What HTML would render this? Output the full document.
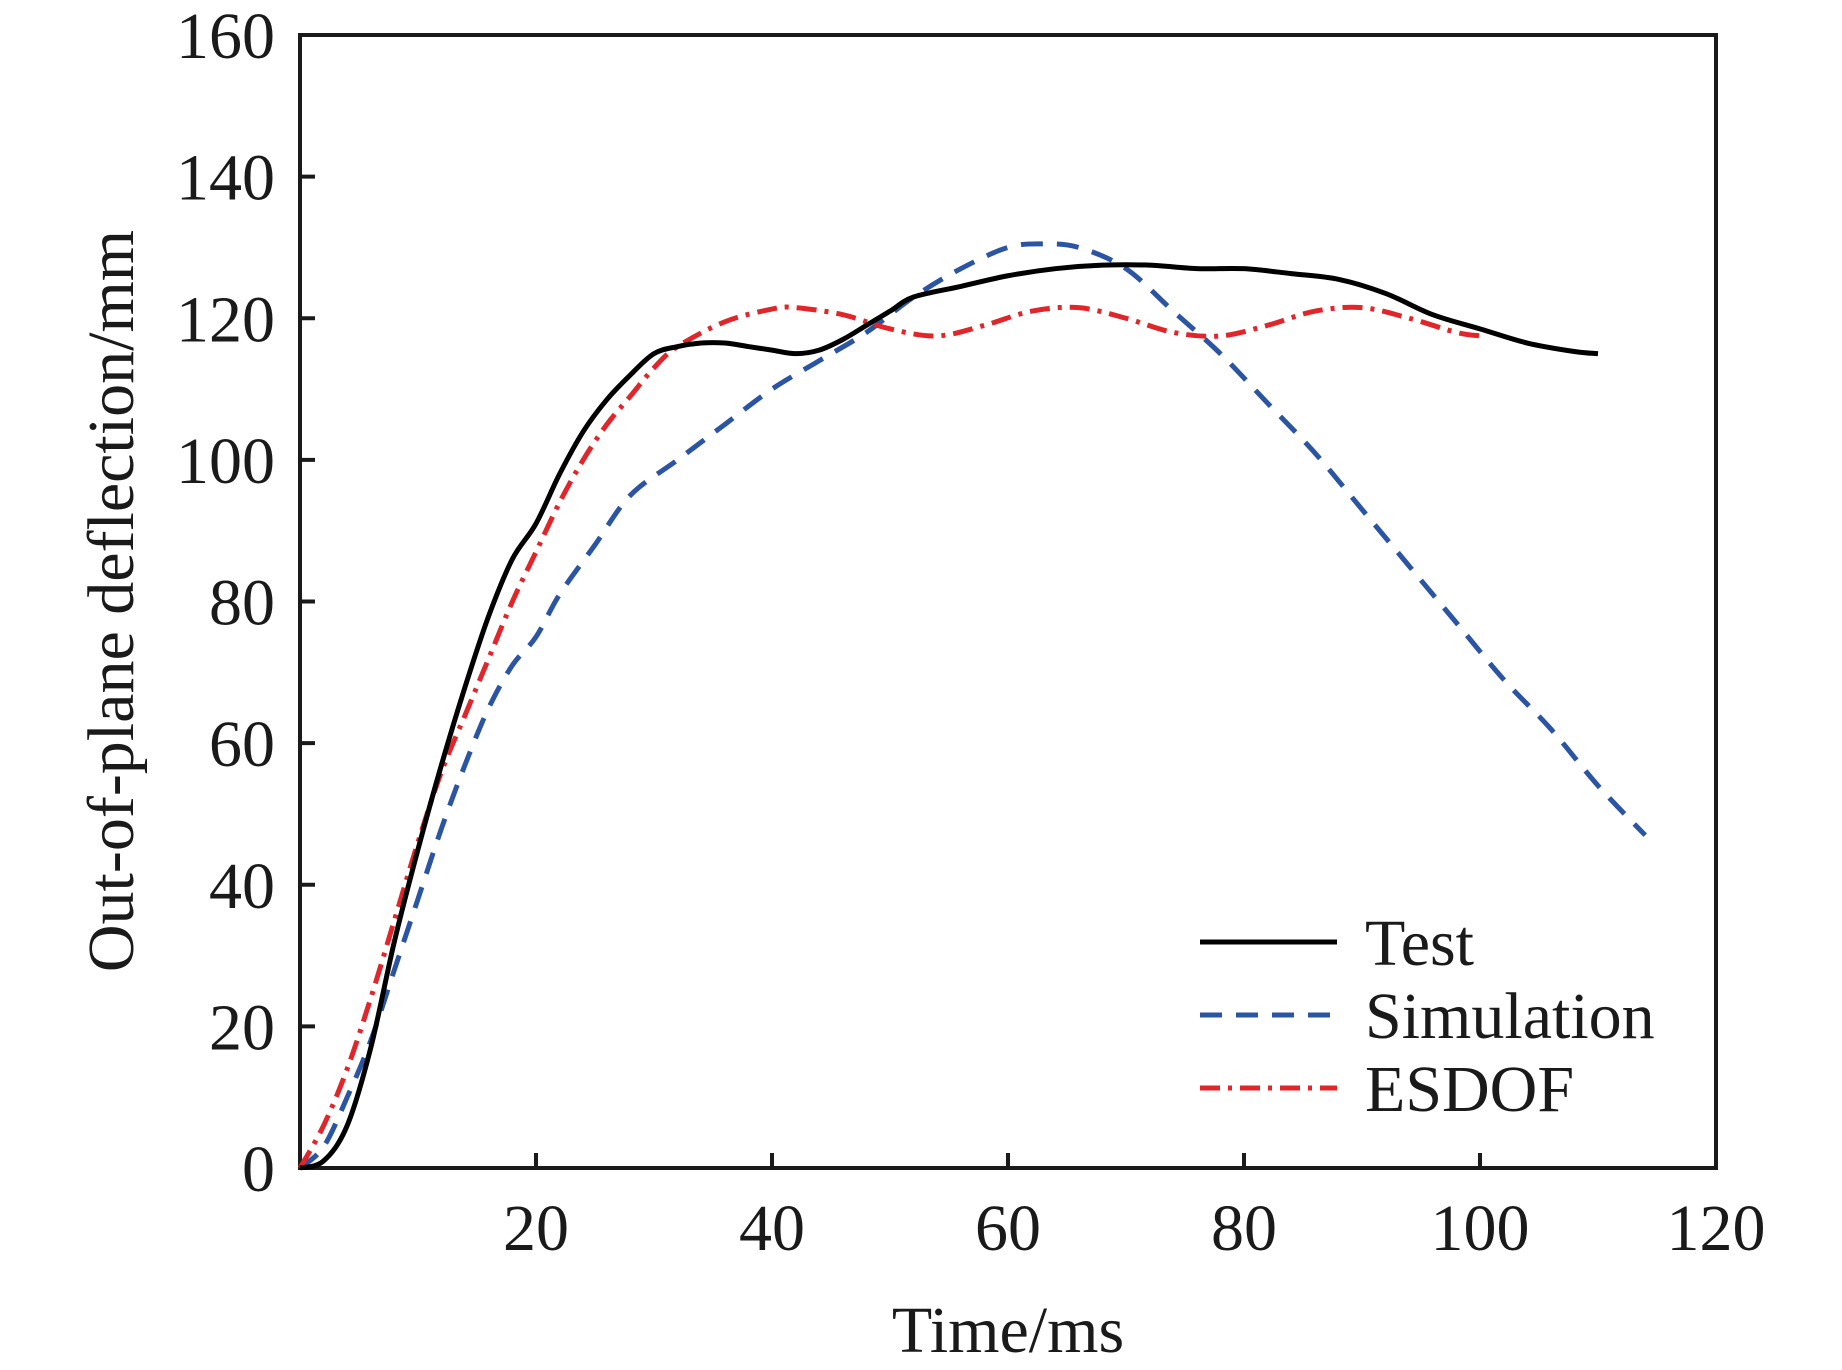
<!DOCTYPE html>
<html><head><meta charset="utf-8"><style>
html,body{margin:0;padding:0;background:#fff}
svg{display:block}
text{font-family:"Liberation Serif",serif;fill:#1a1a1a}
</style></head><body>
<svg id="chart" width="1842" height="1370" viewBox="0 0 1842 1370">
<rect x="300" y="35" width="1416" height="1133" fill="none" stroke="#1a1a1a" stroke-width="4"/>
<g id="ticks"></g>
<g id="series"></g>
<text x="1008" y="1352" font-size="66" text-anchor="middle">Time/ms</text>
<text transform="translate(133,601) rotate(-90)" font-size="66" text-anchor="middle">Out-of-plane deflection/mm</text>
<g>
<line x1="1200" y1="942" x2="1337" y2="942" stroke="#000" stroke-width="5"/>
<text x="1365" y="965" font-size="66">Test</text>
<line x1="1200" y1="1015" x2="1337" y2="1015" stroke="#2b55a3" stroke-width="5" stroke-dasharray="22,14"/>
<text x="1365" y="1038" font-size="66">Simulation</text>
<line x1="1200" y1="1088" x2="1337" y2="1088" stroke="#e0262a" stroke-width="5" stroke-dasharray="20,8,4,8"/>
<text x="1365" y="1111" font-size="66">ESDOF</text>
</g>
</svg>
<script>
const xTicks=[20,40,60,80,100,120];
const yTicks=[0,20,40,60,80,100,120,140,160];
const testT=[0,2,4,6,8,10,12,14,16,18,20,22,24,26,28,30,32,34,36,38,40,42,44,46,48,50,52,56,60,64,68,72,76,80,84,88,92,96,100,104,108,110];
const testV=[0,1,6,17,32,45,57,68,78,86,91,98,104,108.5,112,115,116,116.5,116.5,116,115.5,115,115.5,117,119,121,123,124.5,126,127,127.5,127.5,127,127,126.3,125.5,123.5,120.5,118.5,116.5,115.3,115];
const simT=[0,2,4,6,8,10,12,14,16,18,20,22,25,28,32,36,40,44,48,52,56,60,63,66,70,74,78,82,86,90,94,98,102,106,110,114];
const simV=[0,3,10,18,28,38,48,57,65,71,75,81,88,95,100,105,110,114,118,123,127,130,130.5,130,127,121,115,108,101,93,85,77,69,62,54,47];
const esT=[0,2,4,6,8,10,12,14,16,18,20,22,24,26,28,30,32,36,40,42,46,50,54,58,62,66,70,74,78,82,86,90,94,98,100];
const esV=[0,6,14,24,35,46,56,64,72,80,87,94,100,105,109,113,116,119.5,121.3,121.5,120.5,118.5,117.5,119,121,121.5,120,118,117.5,119,121,121.5,120,118,117.5];
const X0=300,X1=1716,Y0=1168,Y1=35;
const sx=v=>X0+(v/120)*(X1-X0);
const sy=v=>Y0-(v/160)*(Y0-Y1);
const NS="http://www.w3.org/2000/svg";
const tg=document.getElementById('ticks');
xTicks.forEach(t=>{
  const l=document.createElementNS(NS,'line');
  l.setAttribute('x1',sx(t));l.setAttribute('x2',sx(t));l.setAttribute('y1',Y0);l.setAttribute('y2',Y0-15);
  l.setAttribute('stroke','#1a1a1a');l.setAttribute('stroke-width','4');
  
  
  tg.appendChild(l);
  const tx=document.createElementNS(NS,'text');
  tx.setAttribute('x',sx(t));tx.setAttribute('y',1250);tx.setAttribute('font-size','66');tx.setAttribute('text-anchor','middle');
  tx.textContent=t;
  
  
  tg.appendChild(tx);
});
yTicks.forEach(t=>{
  if(t>0&&t<160){
  const l=document.createElementNS(NS,'line');
  l.setAttribute('x1',X0);l.setAttribute('x2',X0+15);l.setAttribute('y1',sy(t));l.setAttribute('y2',sy(t));
  l.setAttribute('stroke','#1a1a1a');l.setAttribute('stroke-width','4');
  
  
  tg.appendChild(l);}
  const tx=document.createElementNS(NS,'text');
  tx.setAttribute('x',275);tx.setAttribute('y',sy(t)+23);tx.setAttribute('font-size','66');tx.setAttribute('text-anchor','end');
  tx.textContent=t;
  
  
  tg.appendChild(tx);
});
const sg=document.getElementById('series');
function smoothPath(T,V){
  const P=T.map((t,i)=>[sx(t),sy(V[i])]);
  let d='M'+P[0][0]+','+P[0][1];
  for(let i=0;i<P.length-1;i++){
    const p0=P[Math.max(0,i-1)],p1=P[i],p2=P[i+1],p3=P[Math.min(P.length-1,i+2)];
    const c1=[p1[0]+(p2[0]-p0[0])/6,p1[1]+(p2[1]-p0[1])/6];
    const c2=[p2[0]-(p3[0]-p1[0])/6,p2[1]-(p3[1]-p1[1])/6];
    d+=' C'+c1[0]+','+c1[1]+' '+c2[0]+','+c2[1]+' '+p2[0]+','+p2[1];
  }
  return d;
}
function draw(T,V,color,dash,name){
  const p=document.createElementNS(NS,'path');
  p.setAttribute('d',smoothPath(T,V));
  p.setAttribute('fill','none');p.setAttribute('stroke',color);p.setAttribute('stroke-width','5');
  p.setAttribute('stroke-linejoin','round');
  if(dash)p.setAttribute('stroke-dasharray',dash);
  
  
  sg.appendChild(p);
}
draw(simT,simV,'#2b55a3','22,14','simulation-line');
draw(esT,esV,'#e0262a','20,8,4,8','esdof-line');
draw(testT,testV,'#000','','test-line');
</script>
</body></html>
